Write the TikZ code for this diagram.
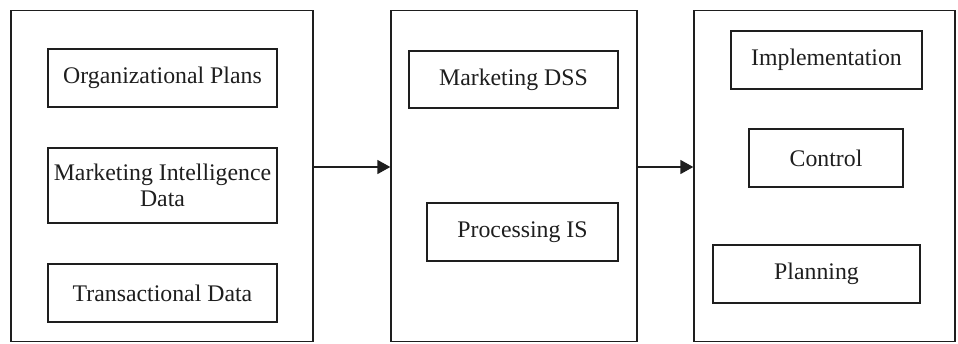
\documentclass[tikz,border=0pt]{standalone}
\usepackage{fontspec}
\setmainfont{Liberation Serif}
\usetikzlibrary{arrows.meta}
\definecolor{ink}{HTML}{1E1E1E}
\begin{document}
\begin{tikzpicture}[x=0.5pt,y=-0.5pt,
  group/.style={draw=ink,line width=0.7pt,rectangle,inner sep=0pt,
    minimum width=#1,minimum height=165.5pt},
  item/.style={draw=ink,line width=1.1pt,rectangle,inner sep=0pt,align=center,
    text=ink,font=\fontsize{11.9}{13}\selectfont},
  flow/.style={draw=ink,line width=0.85pt,-{Triangle[length=6.5pt,width=7pt]}}]
\useasboundingbox (0,0) rectangle (958,343);
% three grouping frames
\node[group=151pt]   (src)  at (162,176)   {};
\node[group=123pt]   (sys)  at (514,176)   {};
\node[group=130.5pt] (use)  at (824.5,176) {};
% inputs
\node[item,minimum width=114.5pt,minimum height=29pt]   (org)   at (162.5,78)  {Organizational Plans};
\node[item,minimum width=114.5pt,minimum height=37.5pt] (intel) at (162.5,185.5) {Marketing Intelligence\\Data};
\node[item,minimum width=114.5pt,minimum height=29pt]   (trans) at (162.5,293) {Transactional Data};
% information systems
\node[item,minimum width=104.5pt,minimum height=28.5pt] (dss)  at (513.5,79.5) {Marketing DSS};
\node[item,minimum width=95.5pt,minimum height=29pt]    (pis)  at (522.5,232)  {Processing IS};
% outputs
\node[item,minimum width=95.5pt,minimum height=29pt]  (impl) at (826.5,60)  {Implementation};
\node[item,minimum width=77pt,minimum height=29pt]    (ctrl) at (826,158)   {Control};
\node[item,minimum width=103.5pt,minimum height=29pt] (plan) at (816.5,274) {Planning};
% connectors between the frames
\coordinate (lvl) at (0,167);
\draw[flow] (src.east |- lvl) -- (sys.west |- lvl);
\draw[flow] (sys.east |- lvl) -- (use.west |- lvl);
\end{tikzpicture}
\end{document}
